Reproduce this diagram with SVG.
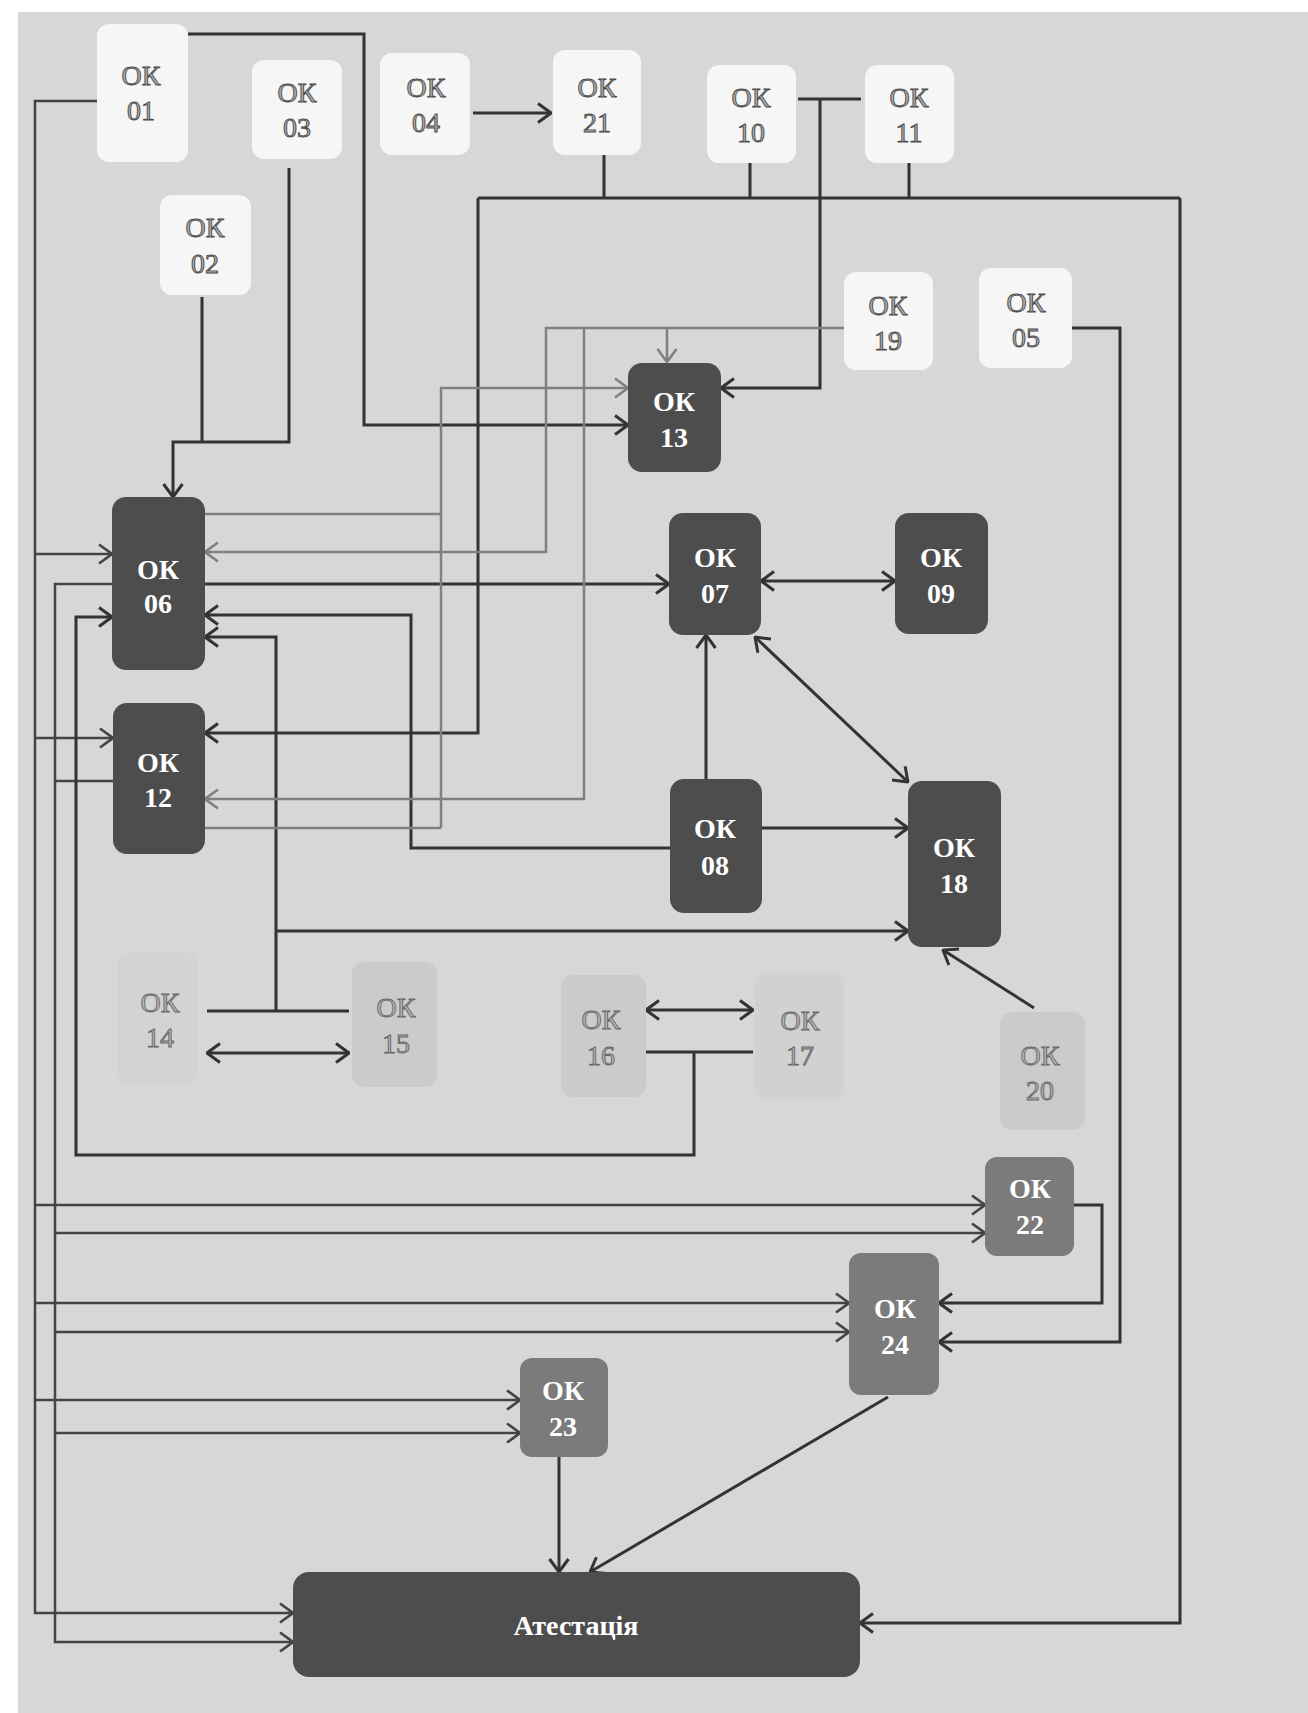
<svg xmlns="http://www.w3.org/2000/svg" width="1308" height="1713" viewBox="0 0 1308 1713">
<style>
.wb{fill:#f6f6f6}
.fb{fill:#cbcbcb}
.db{fill:#4d4d4d}
.mb{fill:#7b7b7b}
.wt{font-family:"Liberation Serif","Times New Roman",serif;font-size:28px;fill:#aaaaaa;stroke:#4a4a4a;stroke-width:0.9;text-anchor:middle}
.ft{font-family:"Liberation Serif","Times New Roman",serif;font-size:28px;fill:#b4b4b4;stroke:#666;stroke-width:0.9;text-anchor:middle}
.dt{font-family:"Liberation Serif","Times New Roman",serif;font-size:28px;font-weight:bold;fill:#ffffff;text-anchor:middle}
.d{fill:none;stroke:#333;stroke-width:3}
.t{fill:none;stroke:#444;stroke-width:2.5}
.g{fill:none;stroke:#808080;stroke-width:2.5}
</style>
<defs>
<marker id="ad" viewBox="0 0 16 22" markerWidth="16" markerHeight="22" refX="15" refY="11" orient="auto-start-reverse" markerUnits="userSpaceOnUse"><path d="M2,1.5 L15,11 L2,20.5" fill="none" stroke="#333" stroke-width="3"/></marker>
<marker id="at" viewBox="0 0 16 22" markerWidth="16" markerHeight="22" refX="15" refY="11" orient="auto-start-reverse" markerUnits="userSpaceOnUse"><path d="M2,1.5 L15,11 L2,20.5" fill="none" stroke="#444" stroke-width="2.6"/></marker>
<marker id="ag" viewBox="0 0 16 22" markerWidth="16" markerHeight="22" refX="15" refY="11" orient="auto-start-reverse" markerUnits="userSpaceOnUse"><path d="M2,1.5 L15,11 L2,20.5" fill="none" stroke="#808080" stroke-width="2.6"/></marker>
</defs>
<rect x="0" y="0" width="1308" height="1713" fill="#ffffff"/>
<rect x="18" y="12" width="1290" height="1701" fill="#d7d7d7"/>

<g id="connectors">
<path class="d" d="M188,34 H364 V425 H628" marker-end="url(#ad)"/>
<path class="t" d="M97,101 H35 V1613 H293" marker-end="url(#at)"/>
<path class="t" d="M35,554 H112" marker-end="url(#at)"/>
<path class="t" d="M35,738 H113" marker-end="url(#at)"/>
<path class="t" d="M35,1205 H985" marker-end="url(#at)"/>
<path class="t" d="M35,1303 H849" marker-end="url(#at)"/>
<path class="t" d="M35,1400 H520" marker-end="url(#at)"/>
<path class="t" d="M112,584 H55 V1642 H293" marker-end="url(#at)"/>
<path class="t" d="M113,781 H55"/>
<path class="t" d="M55,1233 H985" marker-end="url(#at)"/>
<path class="t" d="M55,1332 H849" marker-end="url(#at)"/>
<path class="t" d="M55,1433 H520" marker-end="url(#at)"/>
<path class="d" d="M646,1052 H753"/>
<path class="d" d="M694,1052 V1155 H76 V617 H112" marker-end="url(#ad)"/>
<path class="d" d="M207,1011 H349"/>
<path class="d" d="M276,1011 V637 H205" marker-end="url(#ad)"/>
<path class="d" d="M276,931 H908" marker-end="url(#ad)"/>
<path class="d" d="M207,1053 H349" marker-start="url(#ad)" marker-end="url(#ad)"/>
<path class="d" d="M646,1010 H753" marker-start="url(#ad)" marker-end="url(#ad)"/>
<path class="d" d="M670,848 H411 V615 H205" marker-end="url(#ad)"/>
<path class="d" d="M205,584 H669" marker-end="url(#ad)"/>
<path class="d" d="M761,581 H895" marker-start="url(#ad)" marker-end="url(#ad)"/>
<path class="d" d="M706,779 V635" marker-end="url(#ad)"/>
<path class="d" d="M755,637 L908,782" marker-start="url(#ad)" marker-end="url(#ad)"/>
<path class="d" d="M762,828 H908" marker-end="url(#ad)"/>
<path class="d" d="M1034,1008 L943,950" marker-end="url(#ad)"/>
<path class="d" d="M473,113 H551" marker-end="url(#ad)"/>
<path class="d" d="M604,155 V198 M750,163 V198 M909,163 V198 M478,198 H1180"/>
<path class="d" d="M478,198 V733 H205" marker-end="url(#ad)"/>
<path class="d" d="M1180,198 V1623 H860" marker-end="url(#ad)"/>
<path class="d" d="M798,99 H861"/>
<path class="d" d="M820,99 V388 H721" marker-end="url(#ad)"/>
<path class="d" d="M289,168 V442 H173 V497" marker-end="url(#ad)"/>
<path class="d" d="M202,297 V442"/>
<path class="d" d="M1072,328 H1120 V1342 H939" marker-end="url(#ad)"/>
<path class="d" d="M1074,1205 H1102 V1303 H939" marker-end="url(#ad)"/>
<path class="d" d="M559,1457 V1572" marker-end="url(#ad)"/>
<path class="d" d="M888,1397 L590,1572" marker-end="url(#ad)"/>
<path class="g" d="M844,328 H546 V552 H205" marker-end="url(#ag)"/>
<path class="g" d="M584,328 V799 H205" marker-end="url(#ag)"/>
<path class="g" d="M667,328 V362" marker-end="url(#ag)"/>
<path class="g" d="M205,514 H441 M205,828 H441"/>
<path class="g" d="M441,828 V388 H628" marker-end="url(#ag)"/>
</g>

<g id="ok01"><rect class="wb" x="97" y="24" width="91" height="138" rx="12"/><text class="wt" x="141" y="85">ОК</text><text class="wt" x="141" y="120">01</text></g>
<g id="ok03"><rect class="wb" x="252" y="60" width="90" height="99" rx="12"/><text class="wt" x="297" y="102">ОК</text><text class="wt" x="297" y="137">03</text></g>
<g id="ok02"><rect class="wb" x="160" y="195" width="91" height="100" rx="12"/><text class="wt" x="205" y="237">ОК</text><text class="wt" x="205" y="273">02</text></g>
<g id="ok04"><rect class="wb" x="380" y="53" width="90" height="102" rx="12"/><text class="wt" x="426" y="97">ОК</text><text class="wt" x="426" y="132">04</text></g>
<g id="ok21"><rect class="wb" x="553" y="50" width="88" height="105" rx="12"/><text class="wt" x="597" y="97">ОК</text><text class="wt" x="597" y="132">21</text></g>
<g id="ok10"><rect class="wb" x="707" y="65" width="89" height="98" rx="12"/><text class="wt" x="751" y="107">ОК</text><text class="wt" x="751" y="142">10</text></g>
<g id="ok11"><rect class="wb" x="865" y="65" width="89" height="98" rx="12"/><text class="wt" x="909" y="107">ОК</text><text class="wt" x="909" y="142">11</text></g>
<g id="ok19"><rect class="wb" x="844" y="272" width="89" height="98" rx="12"/><text class="wt" x="888" y="315">ОК</text><text class="wt" x="888" y="350">19</text></g>
<g id="ok05"><rect class="wb" x="979" y="268" width="93" height="100" rx="12"/><text class="wt" x="1026" y="312">ОК</text><text class="wt" x="1026" y="347">05</text></g>

<g id="ok13"><rect class="db" x="628" y="363" width="93" height="109" rx="14"/><text class="dt" x="674" y="411">ОК</text><text class="dt" x="674" y="447">13</text></g>
<g id="ok06"><rect class="db" x="112" y="497" width="93" height="173" rx="14"/><text class="dt" x="158" y="579">ОК</text><text class="dt" x="158" y="613">06</text></g>
<g id="ok07"><rect class="db" x="669" y="513" width="92" height="122" rx="14"/><text class="dt" x="715" y="567">ОК</text><text class="dt" x="715" y="603">07</text></g>
<g id="ok09"><rect class="db" x="895" y="513" width="93" height="121" rx="14"/><text class="dt" x="941" y="567">ОК</text><text class="dt" x="941" y="603">09</text></g>
<g id="ok12"><rect class="db" x="113" y="703" width="92" height="151" rx="14"/><text class="dt" x="158" y="772">ОК</text><text class="dt" x="158" y="807">12</text></g>
<g id="ok08"><rect class="db" x="670" y="779" width="92" height="134" rx="14"/><text class="dt" x="715" y="838">ОК</text><text class="dt" x="715" y="875">08</text></g>
<g id="ok18"><rect class="db" x="908" y="781" width="93" height="166" rx="14"/><text class="dt" x="954" y="857">ОК</text><text class="dt" x="954" y="893">18</text></g>

<g id="ok14"><rect class="fb" x="118" y="953" width="80" height="132" rx="12" opacity="0.35"/><text class="ft" x="160" y="1012">ОК</text><text class="ft" x="160" y="1047">14</text></g>
<g id="ok15"><rect class="fb" x="352" y="962" width="85" height="125" rx="12"/><text class="ft" x="396" y="1017">ОК</text><text class="ft" x="396" y="1053">15</text></g>
<g id="ok16"><rect class="fb" x="561" y="975" width="85" height="122" rx="12"/><text class="ft" x="601" y="1029">ОК</text><text class="ft" x="601" y="1065">16</text></g>
<g id="ok17"><rect class="fb" x="755" y="973" width="89" height="127" rx="12" opacity="0.5"/><text class="ft" x="800" y="1030">ОК</text><text class="ft" x="800" y="1065">17</text></g>
<g id="ok20"><rect class="fb" x="1000" y="1012" width="85" height="118" rx="12"/><text class="ft" x="1040" y="1065">ОК</text><text class="ft" x="1040" y="1100">20</text></g>

<g id="ok22"><rect class="mb" x="985" y="1157" width="89" height="99" rx="12"/><text class="dt" x="1030" y="1198">ОК</text><text class="dt" x="1030" y="1234">22</text></g>
<g id="ok24"><rect class="mb" x="849" y="1253" width="90" height="142" rx="12"/><text class="dt" x="895" y="1318">ОК</text><text class="dt" x="895" y="1354">24</text></g>
<g id="ok23"><rect class="mb" x="520" y="1358" width="88" height="99" rx="12"/><text class="dt" x="563" y="1400">ОК</text><text class="dt" x="563" y="1436">23</text></g>
<g id="atestatsiia"><rect class="db" x="293" y="1572" width="567" height="105" rx="16"/><text class="dt" x="576" y="1635" style="font-size:28px">Атестація</text></g>
</svg>
